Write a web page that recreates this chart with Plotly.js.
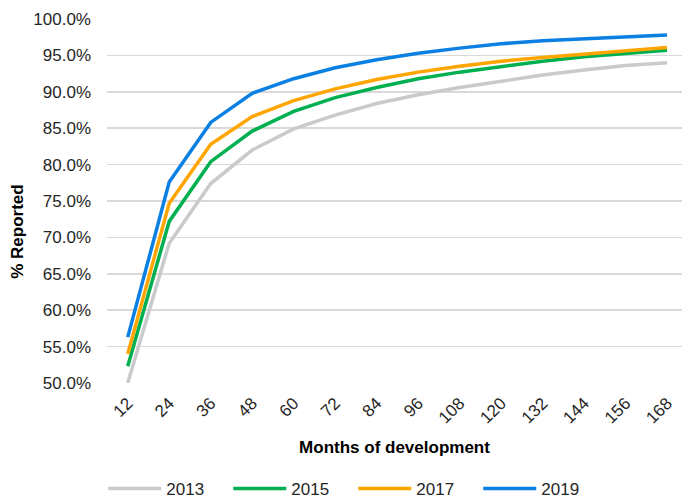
<!DOCTYPE html>
<html>
<head>
<meta charset="utf-8">
<script src="https://cdn.plot.ly/plotly-3.0.1.min.js"></script>
<style>html,body{margin:0;padding:0;background:#fff;}#chart{width:682px;height:499px;}</style>
</head>
<body>
<div id="chart"></div>
<script>
const months = ["12","24","36","48","60","72","84","96","108","120","132","144","156","168"];
const seriesNames = ["2013","2015","2017","2019"];
const y2013 = [0.500,0.692,0.774,0.820,0.849,0.868,0.884,0.896,0.906,0.915,0.923,0.930,0.936,0.940];
const y2015 = [0.523,0.722,0.804,0.846,0.873,0.892,0.906,0.918,0.927,0.935,0.942,0.948,0.953,0.957];
const y2017 = [0.540,0.747,0.828,0.866,0.888,0.904,0.917,0.927,0.935,0.942,0.947,0.952,0.957,0.961];
const y2019 = [0.563,0.776,0.858,0.898,0.918,0.933,0.944,0.953,0.960,0.966,0.970,0.973,0.975,0.978];
const colors = ["#C9CACB","#00B050","#FFA500","#0A80E2"];

const values = [y2013, y2015, y2017, y2019];
const traces = values.map((v, i) => ({
  x: months, y: v, name: seriesNames[i], type: "scatter", mode: "lines",
  line: {color: colors[i], width: 3.5}
}));

const font = "Liberation Sans, Arial, sans-serif";
const layout = {
  width: 682, height: 499,
  margin: {l: 107, r: 0, t: 19, b: 116},
  paper_bgcolor: "#fff", plot_bgcolor: "#fff",
  font: {family: font, size: 17, color: "#262626"},
  showlegend: true,
  legend: {orientation: "h", x: 0.518, xanchor: "center", xref: "container", y: 0.02, yanchor: "middle", yref: "container",
           font: {family: font, size: 17, color: "#262626"}, traceorder: "normal", itemwidth: 53,
           entrywidth: 57, entrywidthmode: "pixels"},
  xaxis: {
    type: "category", range: [-0.5, 13.36], tickangle: -45, automargin: false,
    showgrid: false, zeroline: false, showline: false, ticks: "", ticklabelstandoff: 6,
    tickfont: {family: font, size: 17, color: "#262626"},
    title: {text: "<b>Months of development</b>", font: {family: font, size: 17, color: "#000"}, standoff: 14}
  },
  yaxis: {
    range: [0.5, 1.0], dtick: 0.05, tick0: 0.5, tickformat: ".1%", automargin: false,
    showgrid: true, gridcolor: "#D9D9D9", gridwidth: 1.5, zeroline: false, showline: false, ticks: "",
    ticklabelstandoff: 15,
    tickfont: {family: font, size: 17, color: "#262626"}
  },
  annotations: [{
    text: "<b>% Reported</b>", textangle: -90, xref: "paper", yref: "paper",
    x: -0.155, y: 0.415, xanchor: "center", yanchor: "middle", showarrow: false,
    font: {family: font, size: 17, color: "#000"}
  }]
};
Plotly.newPlot("chart", traces, layout, {displayModeBar: false, staticPlot: true});
</script>
</body>
</html>
